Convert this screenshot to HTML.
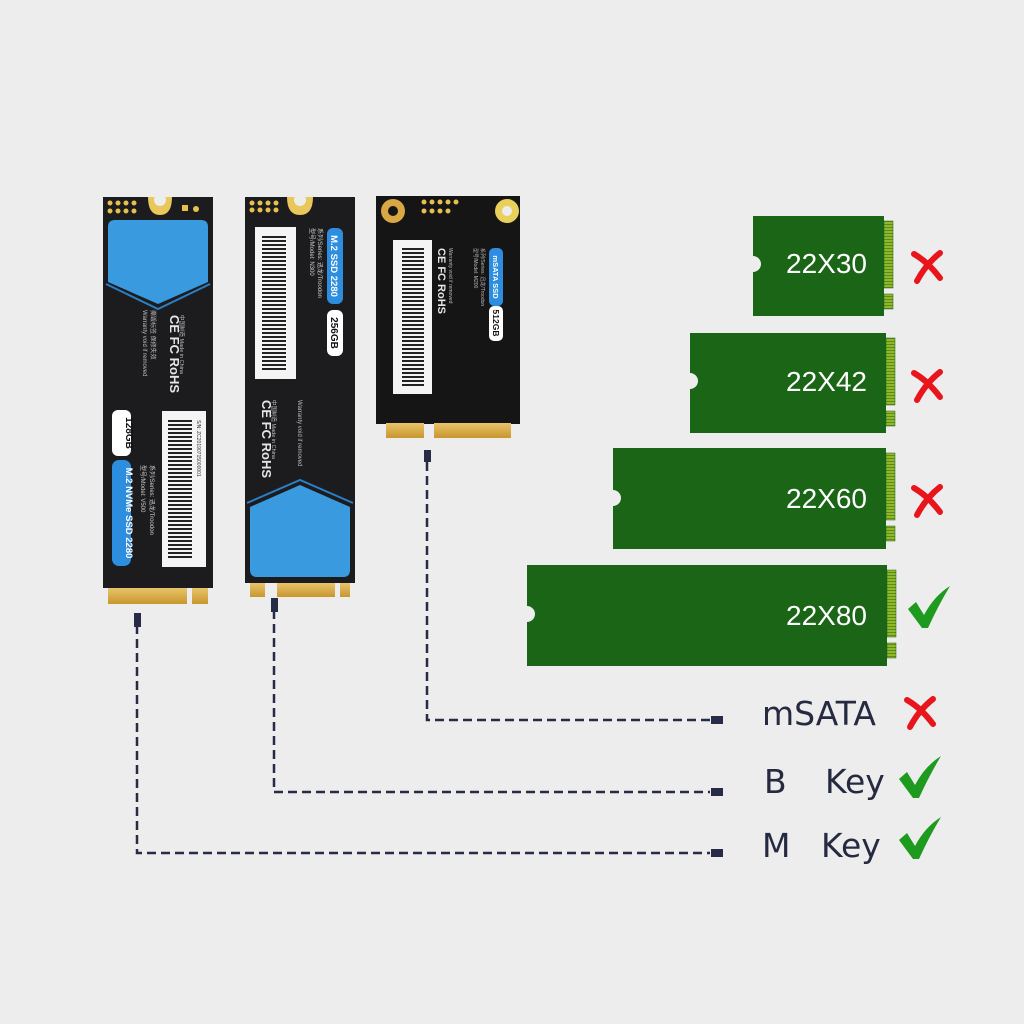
<!DOCTYPE html>
<html><head><meta charset="utf-8"><style>
html,body{margin:0;padding:0;background:#ededed;}
svg{display:block}
</style></head><body>
<svg width="1024" height="1024" viewBox="0 0 1024 1024" xmlns="http://www.w3.org/2000/svg" font-family="Liberation Sans, sans-serif">
<rect width="1024" height="1024" fill="#ededed"/>
<defs>
<linearGradient id="gold" x1="0" y1="0" x2="0" y2="1"><stop offset="0" stop-color="#e8c46a"/><stop offset="1" stop-color="#c8962e"/></linearGradient>
<pattern id="barsH" width="10" height="4" patternUnits="userSpaceOnUse"><rect width="10" height="2" fill="#222"/></pattern>
<pattern id="pins" width="3" height="3" patternUnits="userSpaceOnUse"><rect width="3" height="3" fill="#8fb82a"/><rect y="2" width="3" height="1" fill="#5e8a1c"/></pattern>
</defs>

<!-- SSD 1 (M key) -->
<rect x="103" y="197" width="110" height="391" fill="#1c1c1e"/>
<rect x="108" y="588" width="79" height="16" fill="url(#gold)"/>
<rect x="192" y="588" width="16" height="16" fill="url(#gold)"/>
<path d="M148 197 Q148 215 160 215 Q172 215 172 197Z" fill="#e9c75a"/>
<circle cx="160" cy="200" r="6" fill="#ededed"/>
<g fill="#e5c04f"><circle cx="110" cy="203" r="2.5"/><circle cx="118" cy="203" r="2.5"/><circle cx="126" cy="203" r="2.5"/><circle cx="134" cy="203" r="2.5"/><circle cx="110" cy="211" r="2.5"/><circle cx="118" cy="211" r="2.5"/><circle cx="126" cy="211" r="2.5"/><circle cx="134" cy="211" r="2.5"/><circle cx="196" cy="209" r="3"/><rect x="182" y="205" width="6" height="6"/></g>
<path d="M115 220 H201 Q208 220 208 227 V282 L158 304 L108 282 V227 Q108 220 115 220Z" fill="#3a9ae0"/>
<path d="M106 284 L158 309 L210 284" fill="none" stroke="#2b7fc4" stroke-width="2"/>
<rect x="112" y="410" width="19" height="46" rx="6" fill="#fff"/>
<text transform="translate(126,433) rotate(90)" font-size="10" font-weight="bold" fill="#111" text-anchor="middle">128GB</text>
<rect x="112" y="460" width="19" height="106" rx="7" fill="#2d8ee0"/>
<text transform="translate(126,513) rotate(90)" font-size="9.5" font-weight="bold" fill="#fff" text-anchor="middle">M.2 NVMe SSD 2280</text>
<text transform="translate(141,465) rotate(90)" font-size="6" fill="#ccc">型号/Model: V500</text>
<text transform="translate(150,465) rotate(90)" font-size="6" fill="#ccc">系列/Series: 迅龙/Troodon</text>
<rect x="162" y="411" width="44" height="156" fill="#f4f4f4"/>
<rect x="168" y="418" width="24" height="140" fill="url(#barsH)"/>
<text transform="translate(197,420) rotate(90)" font-size="5" fill="#333">S/N: ZC20190715000001</text>
<text transform="translate(143,310) rotate(90)" font-size="6" fill="#bbb">Warranty void if removed</text>
<text transform="translate(151,310) rotate(90)" font-size="6" fill="#bbb">撕毁标签 保修失效</text>
<text transform="translate(170,315) rotate(90)" font-size="13" font-weight="bold" fill="#e6e6e6">CE FC RoHS</text>
<text transform="translate(180,315) rotate(90)" font-size="5.5" fill="#bbb">中国制造 Made in China</text>

<!-- SSD 2 (B key) -->
<rect x="245" y="197" width="110" height="386" fill="#1c1c1e"/>
<rect x="250" y="583" width="15" height="14" fill="url(#gold)"/>
<rect x="277" y="583" width="58" height="14" fill="url(#gold)"/>
<rect x="340" y="583" width="10" height="14" fill="url(#gold)"/>
<path d="M287 197 Q287 215 300 215 Q313 215 313 197Z" fill="#e9c75a"/>
<circle cx="300" cy="200" r="6" fill="#ededed"/>
<g fill="#e5c04f"><circle cx="252" cy="203" r="2.5"/><circle cx="260" cy="203" r="2.5"/><circle cx="268" cy="203" r="2.5"/><circle cx="276" cy="203" r="2.5"/><circle cx="252" cy="210" r="2.5"/><circle cx="260" cy="210" r="2.5"/><circle cx="268" cy="210" r="2.5"/><circle cx="276" cy="210" r="2.5"/></g>
<rect x="255" y="227" width="41" height="152" fill="#f4f4f4"/>
<rect x="262" y="235" width="24" height="136" fill="url(#barsH)"/>
<rect x="327" y="228" width="16" height="76" rx="6" fill="#2d8ee0"/>
<text transform="translate(331,266) rotate(90)" font-size="9.5" font-weight="bold" fill="#fff" text-anchor="middle">M.2 SSD 2280</text>
<rect x="327" y="310" width="16" height="46" rx="6" fill="#fff"/>
<text transform="translate(331,333) rotate(90)" font-size="10" font-weight="bold" fill="#111" text-anchor="middle">256GB</text>
<text transform="translate(310,228) rotate(90)" font-size="6" fill="#ccc">型号/Model: N300</text>
<text transform="translate(318,228) rotate(90)" font-size="6" fill="#ccc">系列/Series: 迅龙/Troodon</text>
<text transform="translate(262,400) rotate(90)" font-size="13" font-weight="bold" fill="#e6e6e6">CE FC RoHS</text>
<text transform="translate(272,400) rotate(90)" font-size="5.5" fill="#bbb">中国制造 Made in China</text>
<text transform="translate(298,400) rotate(90)" font-size="6" fill="#bbb">Warranty void if removed</text>
<path d="M247 503 L300 480 L353 503" fill="none" stroke="#2b7fc4" stroke-width="2"/>
<path d="M250 507 L300 485 L350 507 V570 Q350 577 343 577 H257 Q250 577 250 570Z" fill="#3a9ae0"/>

<!-- mSATA -->
<rect x="376" y="196" width="144" height="228" fill="#151515"/>
<rect x="386" y="423" width="38" height="15" fill="url(#gold)"/>
<rect x="434" y="423" width="77" height="15" fill="url(#gold)"/>
<circle cx="393" cy="211" r="12" fill="#d9a744"/><circle cx="393" cy="211" r="5" fill="#151515"/>
<circle cx="507" cy="211" r="12" fill="#e9d05a"/><circle cx="507" cy="211" r="5" fill="#ededed"/>
<g fill="#e5c04f"><circle cx="424" cy="202" r="2.5"/><circle cx="432" cy="202" r="2.5"/><circle cx="440" cy="202" r="2.5"/><circle cx="448" cy="202" r="2.5"/><circle cx="456" cy="202" r="2.5"/><circle cx="424" cy="211" r="2.5"/><circle cx="432" cy="211" r="2.5"/><circle cx="440" cy="211" r="2.5"/><circle cx="448" cy="211" r="2.5"/></g>
<rect x="393" y="240" width="39" height="154" fill="#f4f4f4"/>
<rect x="402" y="248" width="22" height="138" fill="url(#barsH)"/>
<rect x="489" y="248" width="14" height="58" rx="5" fill="#2d8ee0"/>
<text transform="translate(493,277) rotate(90)" font-size="7.5" font-weight="bold" fill="#fff" text-anchor="middle">mSATA SSD</text>
<rect x="489" y="306" width="14" height="35" rx="5" fill="#fff"/>
<text transform="translate(493,323) rotate(90)" font-size="8.5" font-weight="bold" fill="#111" text-anchor="middle">512GB</text>
<text transform="translate(438,248) rotate(90)" font-size="11" font-weight="bold" fill="#e6e6e6">CE FC RoHS</text>
<text transform="translate(449,248) rotate(90)" font-size="5" fill="#bbb">Warranty void if removed</text>
<text transform="translate(474,248) rotate(90)" font-size="5" fill="#bbb">型号/Model: M200</text>
<text transform="translate(481,248) rotate(90)" font-size="5" fill="#bbb">系列/Series: 迅龙/Troodon</text>

<!-- Green boards -->
<g fill="#1a6516">
<path d="M753 216 H884 V316 H753 V272 A8 8 0 0 0 753 256Z"/>
<path d="M690 333 H886 V433 H690 V389 A8 8 0 0 0 690 373Z"/>
<path d="M613 448 H886 V549 H613 V506 A8 8 0 0 0 613 490Z"/>
<path d="M527 565 H887 V666 H527 V622 A8 8 0 0 0 527 606Z"/>
</g>
<g fill="url(#pins)" stroke="#1a6516" stroke-width="0.5">
<rect x="884" y="221" width="9" height="67"/><rect x="884" y="294" width="9" height="15"/>
<rect x="886" y="338" width="9" height="67"/><rect x="886" y="411" width="9" height="15"/>
<rect x="886" y="453" width="9" height="67"/><rect x="886" y="526" width="9" height="15"/>
<rect x="887" y="570" width="9" height="67"/><rect x="887" y="643" width="9" height="15"/>
</g>
<g fill="#fff" font-family="Liberation Sans, sans-serif" font-size="28" text-anchor="end">
<text x="867" y="273">22X30</text>
<text x="867" y="391">22X42</text>
<text x="867" y="508">22X60</text>
<text x="867" y="625">22X80</text>
</g>

<!-- X and checks -->
<g fill="none" stroke="#e8161c" stroke-linecap="round">
<g id="x1"><path d="M914 254 Q928 262 940 278" stroke-width="6"/><path d="M940 253 Q926 264 917 281" stroke-width="6"/></g>
<use href="#x1" transform="translate(0,119)"/>
<use href="#x1" transform="translate(0,234)"/>
<use href="#x1" transform="translate(-7,446)"/>
</g>
<g fill="#1e9a1e">
<path id="ck" d="M908 609 L916 602 L924 615 Q934 596 950 586 Q938 606 928 628 L922 628Z"/>
<use href="#ck" transform="translate(-9,170)"/>
<use href="#ck" transform="translate(-9,231)"/>
</g>

<!-- dashed connectors -->
<g stroke="#272b45" stroke-width="2.5" fill="none" stroke-dasharray="9 5">
<path d="M137 625 V853 H710"/>
<path d="M274 610 V792 H710"/>
<path d="M427 462 V720 H710"/>
</g>
<g fill="#272b45">
<rect x="134" y="613" width="7" height="14"/>
<rect x="271" y="598" width="7" height="14"/>
<rect x="424" y="450" width="7" height="12"/>
<rect x="711" y="716" width="12" height="8"/>
<rect x="711" y="788" width="12" height="8"/>
<rect x="711" y="849" width="12" height="8"/>
</g>
<g fill="#262a40" font-family="DejaVu Sans, sans-serif" font-size="33">
<text x="762" y="725">mSATA</text>
<text x="764" y="793">B</text><text x="825" y="793">Key</text>
<text x="762" y="857">M</text><text x="821" y="857">Key</text>
</g>
</svg>
</body></html>
